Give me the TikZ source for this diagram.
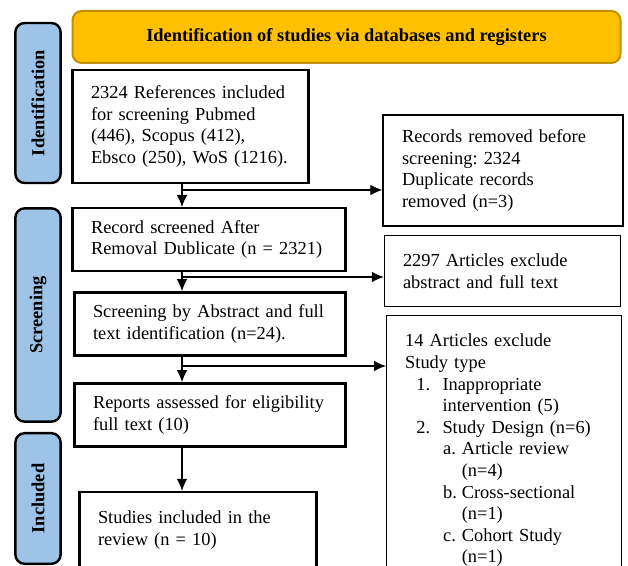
\documentclass[tikz,border=0pt]{standalone}
\usepackage{fontspec}
\setmainfont{Liberation Serif}
\usepackage{tikz}
\usetikzlibrary{arrows.meta}
\usetikzlibrary{positioning}

\definecolor{headgold}{HTML}{FFC000}
\definecolor{headedge}{HTML}{BF9000}
\definecolor{stageblue}{HTML}{9DC3E6}

\newcommand{\bodyfont}{\fontsize{13.8}{16.2}\selectfont}

\tikzset{
	stage/.style={draw=black, line width=1.8pt, fill=stageblue, rounded corners=7pt,
		rotate=90, minimum height=34pt, inner sep=0pt, font=\bodyfont\bfseries},
	box/.style={draw=black, line width=1.8pt, align=left, inner xsep=14pt, inner ysep=0pt,
		execute at begin node={\frenchspacing\advance\rightskip by -10pt}},
	thinbox/.style={box, line width=0.75pt},
	arr/.style={line width=0.8pt, -{Latex[length=9pt, width=8pt]}},
}

\begin{document}
\begin{tikzpicture}[x=0.75pt, y=-0.75pt, font=\bodyfont]
			\useasboundingbox (0,0) rectangle (628,566);
			\clip (0,0) rectangle (628,566);
			
			% header
			\node[draw=headedge, line width=1.5pt, fill=headgold, rounded corners=7pt,
				minimum width=411pt, minimum height=39pt, font=\bodyfont\bfseries]
				(head) at (346.5,37) {Identification of studies via databases and registers};
			
			% stages
			\node[stage, minimum width=120pt] (ident) at (38,103) {Identification};
			\node[stage, minimum width=160pt] (screen) at (38,315) {Screening};
			\node[stage, minimum width=98pt] (incl) at (38,498.5) {Included};
			
			% main column
			\node[box, text width=149.25pt, minimum height=84.5pt] (refs) at (190.5,126.5)
				{2324 References included\\for screening Pubmed\\(446), Scopus (412),\\Ebsco (250), WoS (1216).};
			\node[box, text width=177pt, minimum height=47pt] (screened) at (209,239.5)
				{Record screened After\\Removal Dublicate (n = 2321)};
			\node[box, text width=175.5pt, minimum height=47.5pt] (abstr) at (210,324)
				{Screening by Abstract and full\\text identification (n=24).};
			\node[box, text width=175.5pt, minimum height=47.5pt] (reports) at (210,415)
				{Reports assessed for eligibility\\full text (10)};
			\node[box, text width=150pt, minimum height=57pt] (studies) at (198,530)
				{Studies included in the\\review (n = 10)};
			
			% side column
			\node[box, line width=1.5pt, text width=151.5pt, minimum height=83pt] (removed) at (503,170.5)
				{Records removed before\\screening: 2324\\Duplicate records\\removed (n=3)};
			\node[thinbox, text width=149.25pt, minimum height=53pt] (excla) at (502.5,271)
				{2297 Articles exclude\\abstract and full text};
			\node[thinbox, text width=148.5pt, inner ysep=14pt, anchor=north west] (exclb) at (386,315)
				{14 Articles exclude\\
				Study type\\
				\hspace*{8.4pt}\makebox[19.6pt][l]{1.}Inappropriate\\
				\hspace*{28pt}intervention (5)\\
				\hspace*{8.4pt}\makebox[19.6pt][l]{2.}Study Design (n=6)\\
				\hspace*{28.5pt}\makebox[14pt][l]{a.}Article review\\
				\hspace*{42.5pt}(n=4)\\
				\hspace*{28.5pt}\makebox[14pt][l]{b.}Cross-sectional\\
				\hspace*{42.5pt}(n=1)\\
				\hspace*{28.5pt}\makebox[14pt][l]{c.}Cohort Study\\
				\hspace*{42.5pt}(n=1)};
			
			% branch points
			\coordinate (b1) at (182,190);
			\coordinate (b2) at (182,277);
			\coordinate (b3) at (182,366);
			
			\draw[arr] (refs.south -| b1) -- (screened.north -| b1);
			\draw[arr] (screened.south -| b2) -- (abstr.north -| b2);
			\draw[arr] (abstr.south -| b3) -- (reports.north -| b3);
			\draw[arr] (reports.south -| b3) -- (studies.north -| b3);
			
			\draw[arr] (b1) -- (b1 -| removed.west);
			\draw[arr] (b2) -- (b2 -| excla.west);
			\draw[arr] (b3) -- (b3 -| exclb.west);
			\end{tikzpicture}
\end{document}
